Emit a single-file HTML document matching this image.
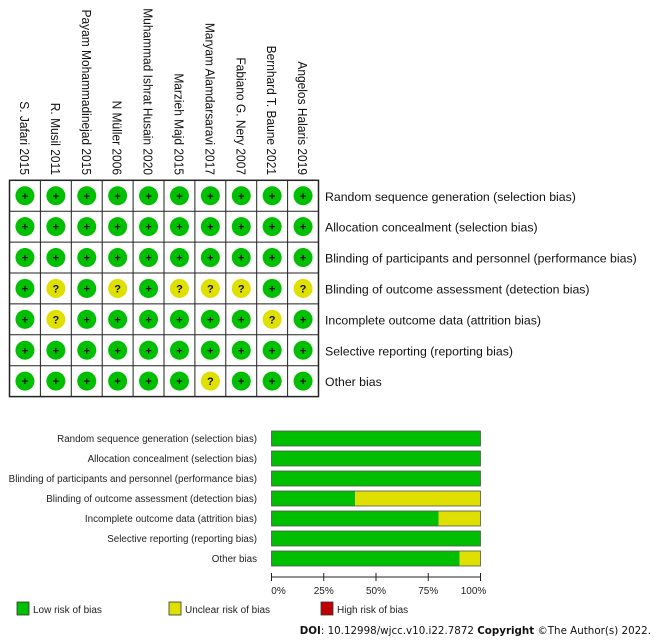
<!DOCTYPE html>
<html><head><meta charset="utf-8"><style>
body{margin:0;background:#fff;}
svg{display:block;font-family:"Liberation Sans",Arial,sans-serif;}
</style></head><body>
<svg id="c" width="661" height="641" viewBox="0 0 661 641"></svg>
<script>
const studies=["S. Jafari 2015","R. Musil 2011","Payam Mohammadinejad 2015","N Müller 2006","Muhammad Ishrat Husain 2020","Marzieh Majd 2015","Maryam Alamdarsaravi 2017","Fabiano G. Nery 2007","Bernhard T. Baune 2021","Angelos Halaris 2019"];
const domains=["Random sequence generation (selection bias)","Allocation concealment (selection bias)","Blinding of participants and personnel (performance bias)","Blinding of outcome assessment (detection bias)","Incomplete outcome data (attrition bias)","Selective reporting (reporting bias)","Other bias"];
// rows = domains, columns = studies; "+" low, "?" unclear, "-" high
const judgements=[
"++++++++++",
"++++++++++",
"++++++++++",
"+?+?+???+?",
"+?++++++?+",
"++++++++++",
"++++++?+++"];
const lowPct=[100,100,100,40,80,100,90];
const unclearPct=[0,0,0,60,20,0,10];
const highPct=[0,0,0,0,0,0,0];
const ticks=[0,25,50,75,100];
const legendLabels=["Low risk of bias","Unclear risk of bias","High risk of bias"];

const NS="http://www.w3.org/2000/svg";
const svg=document.getElementById('c');
function mk(t,a,p){const e=document.createElementNS(NS,t);for(const k in a)e.setAttribute(k,a[k]);(p||svg).appendChild(e);return e;}
const GREEN="#00bf00",YEL="#e0e000",RED="#c00000";
const gx0=9.5,gy0=180.3,cw=30.9,rh=30.9;
const colX=i=>gx0+cw*(i+0.5), rowY=j=>gy0+rh*(j+0.5);
studies.forEach((s,i)=>{
 const t=mk('text',{x:0,y:0,transform:`translate(${colX(i)-5},175) rotate(90) scale(0.92,1)`,'text-anchor':'end','font-size':13,fill:'#111'});
 t.textContent=s;
 
 
});
mk('rect',{x:gx0,y:gy0,width:cw*studies.length,height:rh*domains.length,fill:'none',stroke:'#222','stroke-width':1.5});
for(let i=1;i<studies.length;i++)mk('line',{x1:gx0+cw*i,x2:gx0+cw*i,y1:gy0,y2:gy0+rh*domains.length,stroke:'#222','stroke-width':1});
for(let j=1;j<domains.length;j++)mk('line',{x1:gx0,x2:gx0+cw*studies.length,y1:gy0+rh*j,y2:gy0+rh*j,stroke:'#222','stroke-width':1});
domains.forEach((d,j)=>{
 const t=mk('text',{x:325,y:rowY(j)+5,'font-size':12.3,fill:'#111'});t.textContent=d;
 
 
 for(let i=0;i<studies.length;i++){
  const v=judgements[j][i];
  const g=mk('g',{});
  
  
  mk('circle',{cx:colX(i),cy:rowY(j),r:9.5,fill:v=='+'?GREEN:v=='?'?YEL:RED},g);
  const t2=mk('text',{x:colX(i),y:rowY(j)+4,'text-anchor':'middle','font-size':11,'font-weight':'bold',fill:'#111'},g);
  t2.textContent=v;
 }
});
const bx0=271.5,bx1=480.5,by0=431,bp=20,bh=15;
const xs=p=>bx0+(bx1-bx0)*p/100;
domains.forEach((d,j)=>{
 const y=by0+bp*j;
 const t=mk('text',{x:257,y:y+11,'text-anchor':'end','font-size':9.8,fill:'#222'});t.textContent=d;
 
 
 let acc=0;
 [[lowPct[j],GREEN],[unclearPct[j],YEL],[highPct[j],RED]].forEach(([v,c])=>{
  if(v>0){const r=mk('rect',{x:xs(acc),y:y,width:xs(acc+v)-xs(acc),height:bh,fill:c});
   
   }
  acc+=v;
 });
 mk('rect',{x:bx0,y:y,width:bx1-bx0,height:bh,fill:'none',stroke:'#555','stroke-width':0.8});
});
mk('line',{x1:bx0,x2:bx1,y1:577,y2:577,stroke:'#222','stroke-width':1});
ticks.forEach(v=>{
 mk('line',{x1:xs(v),x2:xs(v),y1:573,y2:581,stroke:'#222','stroke-width':1});
 const t=mk('text',{x:xs(v)+(v==0?7:v==100?-7:0),y:594,'text-anchor':'middle','font-size':10,fill:'#222'});t.textContent=v+'%';
 
 
});
[[17,GREEN],[169,YEL],[321,RED]].forEach(([x,c],k)=>{
 const g=mk('g',{});
 
 
 mk('rect',{x:x,y:602,width:12,height:13,fill:c,stroke:'#333','stroke-width':0.8},g);
 const t=mk('text',{x:x+16,y:613,'font-size':10,fill:'#222'},g);t.textContent=legendLabels[k];
});
const doi=mk('text',{x:651,y:634,'text-anchor':'end','font-size':10.3,fill:'#111',"font-family":"DejaVu Sans, sans-serif"});
doi.innerHTML='<tspan font-weight="bold">DOI</tspan>: 10.12998/wjcc.v10.i22.7872 <tspan font-weight="bold">Copyright</tspan> ©The Author(s) 2022.';


</script>
</body></html>
